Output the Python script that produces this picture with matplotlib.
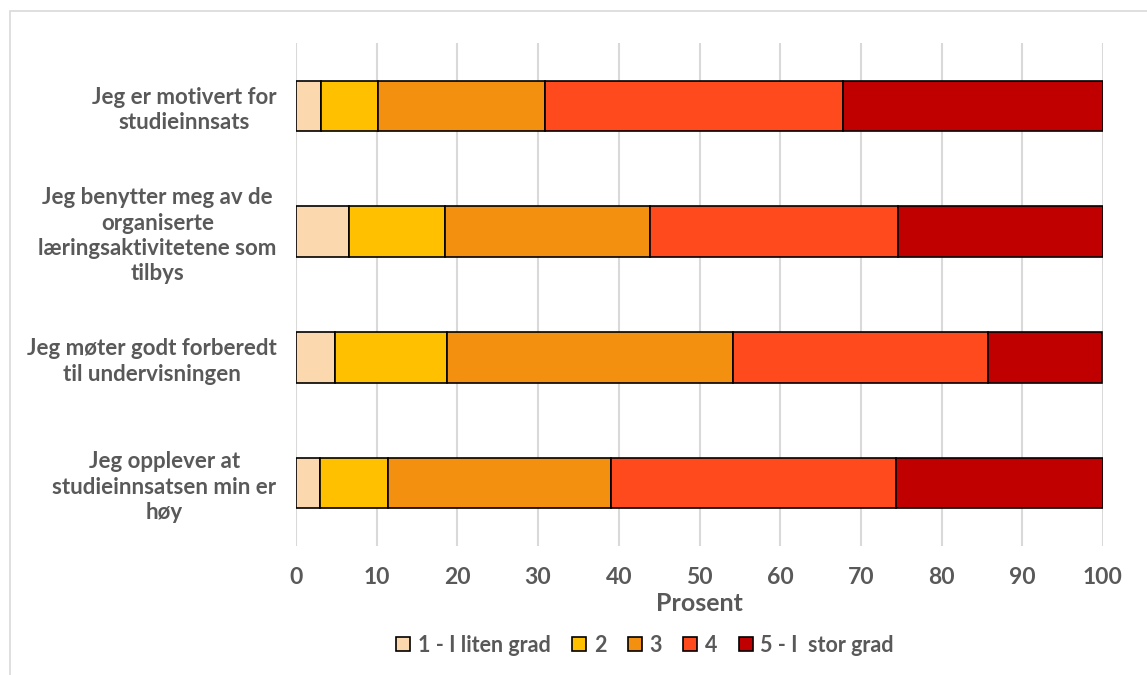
import matplotlib
matplotlib.use("Agg")
import matplotlib.pyplot as plt
from matplotlib.patches import Rectangle

categories = [
    "Jeg er motivert for\nstudieinnsats",
    "Jeg benytter meg av de\norganiserte\nlæringsaktivitetene som\ntilbys",
    "Jeg møter godt forberedt\ntil undervisningen",
    "Jeg opplever at\nstudieinnsatsen min er\nhøy",
]
series_names = ["1 - I liten grad", "2", "3", "4", "5 - I  stor grad"]
s1 = [3.1, 6.6, 4.8, 3.0]
s2 = [7.1, 11.9, 13.9, 8.4]
s3 = [20.7, 25.4, 35.4, 27.6]
s4 = [36.9, 30.7, 31.7, 35.3]
s5 = [32.2, 25.4, 14.1, 25.7]
colors = ["#FBD8AE", "#FFC000", "#F39010", "#FF4A1E", "#C00000"]
xticks = list(range(0, 101, 10))

plt.rcParams['font.family'] = ['Lato', 'DejaVu Sans']
plt.rcParams['font.weight'] = 'bold'
txt = "#595959"

fig = plt.figure(figsize=(11.47, 6.75), dpi=100)
W, H = 1147, 675
ax = fig.add_axes([296 / W, 1 - 546 / H, (1103 - 296) / W, (546 - 43) / H])

# outer frame
fig.patches.append(Rectangle((10 / W, -0.1), 1.2, 1 - 11 / H + 0.1, transform=fig.transFigure,
                             fill=False, edgecolor="#D9D9D9", linewidth=1.2))

ypos = list(range(len(categories)))
left = [0.0] * len(categories)
for name, vals, c in zip(series_names, [s1, s2, s3, s4, s5], colors):
    ax.barh(ypos, vals, left=left, height=0.4, color=c, edgecolor="black",
            linewidth=1.2, label=name, zorder=3)
    left = [l + v for l, v in zip(left, vals)]

ax.set_xlim(0, 100)
ax.set_ylim(len(categories) - 0.5, -0.5)
ax.set_xticks(xticks)
ax.set_xticklabels([str(t) for t in xticks], fontsize=16.5, color=txt, fontweight='bold')
ax.set_yticks(ypos)
ax.set_yticklabels(categories, fontsize=16, color=txt, fontweight='bold',
                   multialignment='center', linespacing=1.25)
ax.tick_params(axis='x', length=0, pad=15)
ax.tick_params(axis='y', length=0, pad=14)
ax.grid(axis='x', color="#D9D9D9", linewidth=1.5, zorder=0)
for sp in ax.spines.values():
    sp.set_visible(False)
ax.set_xlabel("Prosent", fontsize=18, color=txt, fontweight='bold', labelpad=3)

leg = fig.legend(loc='center', bbox_to_anchor=(645 / W, 1 - 645 / H), ncol=5, frameon=False,
                 fontsize=15.5, handlelength=0.65, handleheight=0.65, handletextpad=0.35,
                 columnspacing=1.0, labelcolor=txt)
for t in leg.get_texts():
    t.set_fontweight('bold')

fig.savefig("out.png", dpi=100)
